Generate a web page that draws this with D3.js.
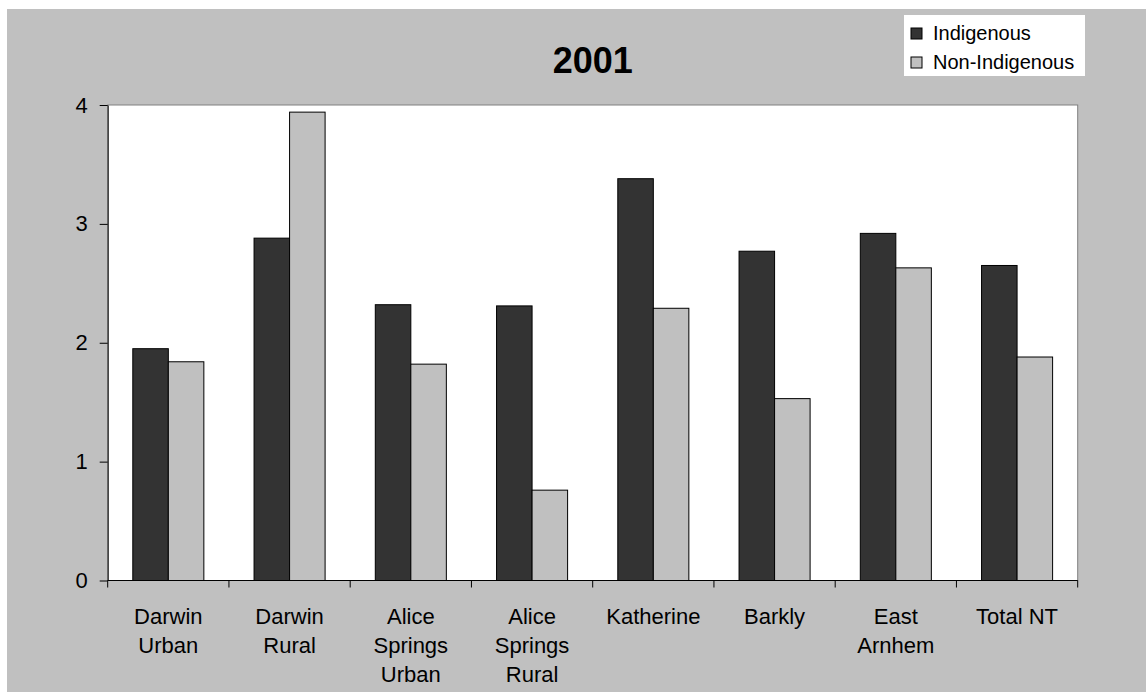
<!DOCTYPE html>
<html>
<head>
<meta charset="utf-8">
<script src="https://cdn.jsdelivr.net/npm/d3@7"></script>
<style>
  html, body { margin: 0; padding: 0; background: #ffffff; }
  svg { display: block; font-family: "Liberation Sans", Arial, sans-serif; }
</style>
</head>
<body>
<svg id="chart" width="1146" height="692"></svg>
<script>
// Regions of the Northern Territory (each label split into lines)
const categories = [
  ["Darwin", "Urban"],
  ["Darwin", "Rural"],
  ["Alice", "Springs", "Urban"],
  ["Alice", "Springs", "Rural"],
  ["Katherine"],
  ["Barkly"],
  ["East", "Arnhem"],
  ["Total NT"]
];
const seriesNames = ["Indigenous", "Non-Indigenous"];
const indigenous    = [1.95, 2.88, 2.32, 2.31, 3.38, 2.77, 2.92, 2.65];
const nonIndigenous = [1.84, 3.94, 1.82, 0.76, 2.29, 1.53, 2.63, 1.88];
const yTicks = [0, 1, 2, 3, 4];
const title = "2001";

const colors = { "Indigenous": "#333333", "Non-Indigenous": "#c0c0c0" };

const svg = d3.select("#chart");
const W = 1146, H = 692;

// grey chart area
svg.append("rect").attr("x", 7).attr("y", 9).attr("width", W - 7).attr("height", H - 9)
  .attr("fill", "#c0c0c0");

const plot = { left: 107.7, right: 1077.7, top: 105, bottom: 580.5 };

const keys = categories.map(c => c.join(" "));
const x0 = d3.scaleBand().domain(keys)
  .range([plot.left, plot.right])
  .paddingInner(0.414).paddingOuter(0.207);
const x1 = d3.scaleBand().domain(seriesNames).range([0, x0.bandwidth()]);
const y = d3.scaleLinear().domain([0, 4]).range([plot.bottom, plot.top]);

// plot area
svg.append("rect")
  .attr("x", plot.left).attr("y", plot.top)
  .attr("width", plot.right - plot.left).attr("height", plot.bottom - plot.top)
  .attr("fill", "#ffffff").attr("stroke", "#808080").attr("stroke-width", 1);

// bars
const rows = keys.map((k, i) => ({ key: k, values: [
  { name: "Indigenous", v: indigenous[i] },
  { name: "Non-Indigenous", v: nonIndigenous[i] }
]}));

const g = svg.append("g");
g.selectAll("g.cat").data(rows).join("g")
  .attr("class", "cat")
  .attr("transform", d => `translate(${x0(d.key)},0)`)
  .selectAll("rect").data(d => d.values).join("rect")
  .attr("x", d => x1(d.name))
  .attr("y", d => y(d.v))
  .attr("width", x1.bandwidth())
  .attr("height", d => y(0) - y(d.v))
  .attr("fill", d => colors[d.name])
  .attr("stroke", "#000000").attr("stroke-width", 1);

// y axis
const yAxis = d3.axisLeft(y).tickValues(yTicks).tickFormat(d3.format("d"))
  .tickSizeInner(8).tickSizeOuter(0).tickPadding(12);
const ya = svg.append("g").attr("transform", `translate(${plot.left},0)`).call(yAxis);
ya.select(".domain").attr("stroke", "#000000");
ya.selectAll("line").attr("stroke", "#000000");
ya.selectAll("text").attr("font-size", 22).attr("fill", "#000000")
  .attr("font-family", "Liberation Sans, Arial, sans-serif");

// x axis line with ticks between categories
const step = x0.step();
const boundaries = d3.range(categories.length + 1).map(i => plot.left + i * step);
svg.append("line")
  .attr("x1", plot.left).attr("x2", plot.right)
  .attr("y1", plot.bottom).attr("y2", plot.bottom)
  .attr("stroke", "#000000");
svg.selectAll("line.xtick").data(boundaries).join("line")
  .attr("class", "xtick")
  .attr("x1", d => d).attr("x2", d => d)
  .attr("y1", plot.bottom).attr("y2", plot.bottom + 7)
  .attr("stroke", "#000000");

// category labels
const labels = svg.selectAll("text.cat").data(categories).join("text")
  .attr("class", "cat")
  .attr("text-anchor", "middle")
  .attr("font-size", 22)
  .attr("fill", "#000000")
  .attr("x", (d, i) => x0(keys[i]) + x0.bandwidth() / 2)
  .attr("y", 624);
labels.selectAll("tspan").data(d => d).join("tspan")
  .attr("x", function () { return d3.select(this.parentNode).attr("x"); })
  .attr("dy", (d, i) => i === 0 ? 0 : 29)
  .text(d => d);

// title
svg.append("text")
  .attr("x", (plot.left + plot.right) / 2).attr("y", 73)
  .attr("text-anchor", "middle")
  .attr("font-size", 36).attr("font-weight", "bold")
  .text(title);

// legend
const lg = svg.append("g");
lg.append("rect").attr("x", 904).attr("y", 15).attr("width", 181).attr("height", 61)
  .attr("fill", "#ffffff");
seriesNames.forEach((name, i) => {
  const yy = 28 + i * 29;
  lg.append("rect").attr("x", 911).attr("y", yy).attr("width", 11).attr("height", 11)
    .attr("fill", colors[name]).attr("stroke", "#000000").attr("stroke-width", 1);
  lg.append("text").attr("x", 933).attr("y", yy + 12)
    .attr("font-size", 20).attr("fill", "#000000").text(name);
});
</script>
</body>
</html>
